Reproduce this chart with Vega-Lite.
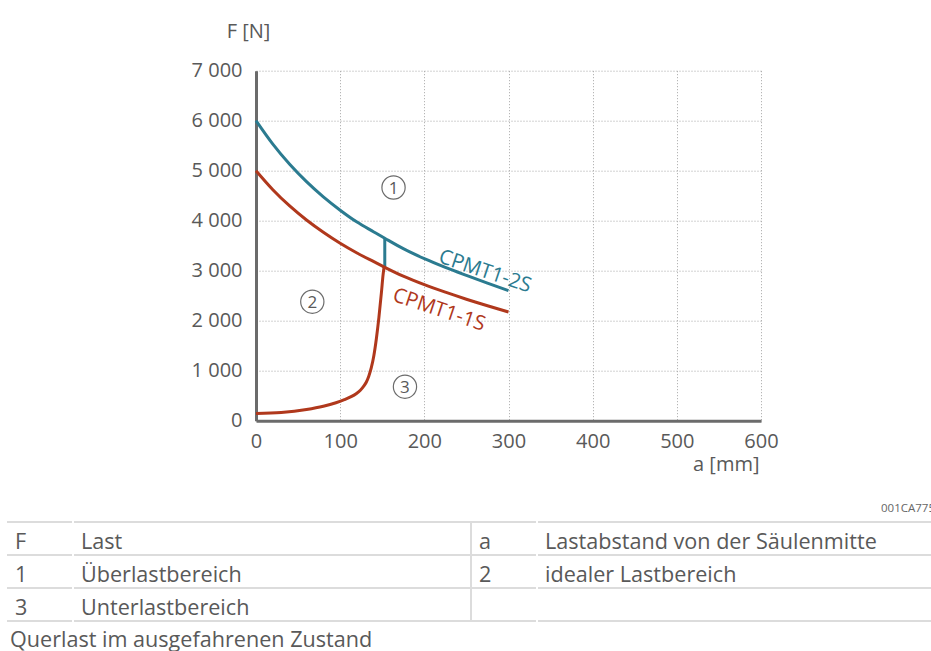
{
  "$schema": "https://vega.github.io/schema/vega-lite/v6.json",
  "width": 505,
  "height": 350,
  "autosize": {"type": "none"},
  "padding": {"left": 256, "top": 70.7, "right": 170, "bottom": 230.3},
  "background": "white",
  "config": {"view": {"stroke": null}, "font": "Open Sans"},
  "datasets": {
    "curves": [
      {"s": "CPMT1-2S", "a": 0, "F": 6000}, {"s": "CPMT1-2S", "a": 20, "F": 5530}, {"s": "CPMT1-2S", "a": 40, "F": 5127},
      {"s": "CPMT1-2S", "a": 60, "F": 4780}, {"s": "CPMT1-2S", "a": 80, "F": 4476}, {"s": "CPMT1-2S", "a": 100, "F": 4210},
      {"s": "CPMT1-2S", "a": 120, "F": 3972}, {"s": "CPMT1-2S", "a": 140, "F": 3775}, {"s": "CPMT1-2S", "a": 153, "F": 3648},
      {"s": "CPMT1-2S", "a": 175, "F": 3440}, {"s": "CPMT1-2S", "a": 200, "F": 3240}, {"s": "CPMT1-2S", "a": 225, "F": 3065},
      {"s": "CPMT1-2S", "a": 250, "F": 2905}, {"s": "CPMT1-2S", "a": 275, "F": 2750}, {"s": "CPMT1-2S", "a": 300, "F": 2600},
      {"s": "CPMT1-1S", "a": 0, "F": 5000}, {"s": "CPMT1-1S", "a": 20, "F": 4620}, {"s": "CPMT1-1S", "a": 40, "F": 4295},
      {"s": "CPMT1-1S", "a": 60, "F": 4015}, {"s": "CPMT1-1S", "a": 80, "F": 3770}, {"s": "CPMT1-1S", "a": 100, "F": 3550},
      {"s": "CPMT1-1S", "a": 120, "F": 3355}, {"s": "CPMT1-1S", "a": 140, "F": 3180}, {"s": "CPMT1-1S", "a": 153, "F": 3068},
      {"s": "CPMT1-1S", "a": 175, "F": 2890}, {"s": "CPMT1-1S", "a": 200, "F": 2720}, {"s": "CPMT1-1S", "a": 225, "F": 2570},
      {"s": "CPMT1-1S", "a": 250, "F": 2430}, {"s": "CPMT1-1S", "a": 275, "F": 2300}, {"s": "CPMT1-1S", "a": 300, "F": 2175},
      {"s": "Grenze", "a": 0, "F": 145}, {"s": "Grenze", "a": 30, "F": 165}, {"s": "Grenze", "a": 60, "F": 225},
      {"s": "Grenze", "a": 80, "F": 290}, {"s": "Grenze", "a": 95, "F": 360}, {"s": "Grenze", "a": 105, "F": 420},
      {"s": "Grenze", "a": 113, "F": 480}, {"s": "Grenze", "a": 119, "F": 540}, {"s": "Grenze", "a": 124, "F": 610},
      {"s": "Grenze", "a": 128, "F": 690}, {"s": "Grenze", "a": 131, "F": 770}, {"s": "Grenze", "a": 134, "F": 890},
      {"s": "Grenze", "a": 137, "F": 1060}, {"s": "Grenze", "a": 140, "F": 1300}, {"s": "Grenze", "a": 143, "F": 1640},
      {"s": "Grenze", "a": 146, "F": 2060}, {"s": "Grenze", "a": 149, "F": 2560}, {"s": "Grenze", "a": 151, "F": 2920},
      {"s": "Grenze", "a": 152.2, "F": 3078}
    ],
    "vertical": [
      {"a": 153, "F": 3068, "a2": 153, "F2": 3648}
    ],
    "zones": [
      {"n": "1", "a": 163.4, "F": 4664},
      {"n": "2", "a": 66.9, "F": 2380},
      {"n": "3", "a": 177, "F": 680}
    ],
    "labels": [
      {"t": "CPMT1-2S", "a": 272, "F": 2980, "k": "CPMT1-2S"},
      {"t": "CPMT1-1S", "a": 217.4, "F": 2214, "k": "CPMT1-1S"}
    ],
    "hlines": [
      {"r": 1, "c": 0, "c2": 4}, {"r": 2, "c": 0, "c2": 4}, {"r": 3, "c": 0, "c2": 4}, {"r": 4, "c": 0, "c2": 4}
    ],
    "gaps": [
      {"c": 1, "r": 1, "r2": 4}, {"c": 3, "r": 1, "r2": 4}
    ],
    "divider": [
      {"c": 2, "r": 1, "r2": 4}
    ],
    "cells": [
      {"r": 1, "c": 0, "t": "F"}, {"r": 1, "c": 1, "t": "Last"}, {"r": 1, "c": 2, "t": "a"}, {"r": 1, "c": 3, "t": "Lastabstand von der Säulenmitte"},
      {"r": 2, "c": 0, "t": "1"}, {"r": 2, "c": 1, "t": "Überlastbereich"}, {"r": 2, "c": 2, "t": "2"}, {"r": 2, "c": 3, "t": "idealer Lastbereich"},
      {"r": 3, "c": 0, "t": "3"}, {"r": 3, "c": 1, "t": "Unterlastbereich"}
    ],
    "caption": [
      {"r": 4, "c": 0, "t": "Querlast im ausgefahrenen Zustand"}
    ],
    "code": [
      {"r": 0, "c": 4, "t": "001CA775"}
    ]
  },
  "layer": [
    {
      "layer": [
        {
          "data": {"name": "vertical"},
          "mark": {"type": "rule", "color": "#2b7b90", "strokeWidth": 3},
          "encoding": {
            "x": {
              "field": "a", "type": "quantitative",
              "scale": {"domain": [0, 600], "nice": false, "zero": false},
              "axis": {
                "values": [0, 100, 200, 300, 400, 500, 600],
                "title": "a [mm]", "titleX": 503, "titleY": 50, "titleAlign": "right", "titleBaseline": "alphabetic",
                "titleFontSize": 20, "titleFontWeight": "normal", "titleColor": "#595959", "titleFont": "Open Sans",
                "labelFontSize": 20, "labelColor": "#595959", "labelFont": "Open Sans", "labelPadding": 11, "labelFlush": false, "labelOverlap": false,
                "ticks": false, "tickSize": 0,
                "domainColor": "#6b6b6b", "domainWidth": 3,
                "grid": true, "gridColor": "#a6a6a6", "gridDash": [1, 2], "gridWidth": 1
              }
            },
            "y": {
              "field": "F", "type": "quantitative",
              "scale": {"domain": [0, 7000], "nice": false, "zero": false},
              "axis": {
                "values": [0, 1000, 2000, 3000, 4000, 5000, 6000, 7000],
                "labelExpr": "replace(format(datum.value, ','), ',', ' ')",
                "title": "F [N]", "titleAngle": 0, "titleX": -8, "titleY": -33.4, "titleAlign": "center", "titleBaseline": "alphabetic",
                "titleFontSize": 20, "titleFontWeight": "normal", "titleColor": "#595959", "titleFont": "Open Sans",
                "labelFontSize": 20, "labelColor": "#595959", "labelFont": "Open Sans", "labelPadding": 14, "labelOverlap": false,
                "ticks": false, "tickSize": 0,
                "domainColor": "#6b6b6b", "domainWidth": 3,
                "grid": true, "gridColor": "#a6a6a6", "gridDash": [1, 2], "gridWidth": 1
              }
            },
            "x2": {"field": "a2"},
            "y2": {"field": "F2"}
          }
        },
        {
          "data": {"name": "curves"},
          "mark": {"type": "line", "strokeWidth": 3, "interpolate": "monotone"},
          "encoding": {
            "x": {"field": "a", "type": "quantitative"},
            "y": {"field": "F", "type": "quantitative"},
            "color": {
              "field": "s", "type": "nominal",
              "scale": {"domain": ["CPMT1-2S", "CPMT1-1S", "Grenze"], "range": ["#2b7b90", "#b0381c", "#b0381c"]},
              "legend": null
            }
          }
        },
        {
          "data": {"name": "zones"},
          "mark": {"type": "point", "shape": "circle", "filled": false, "size": 540, "stroke": "#6b6b6b", "strokeWidth": 1.2, "opacity": 1},
          "encoding": {
            "x": {"field": "a", "type": "quantitative"},
            "y": {"field": "F", "type": "quantitative"}
          }
        },
        {
          "data": {"name": "zones"},
          "mark": {"type": "text", "fontSize": 17, "color": "#595959", "align": "center", "baseline": "middle", "dy": 1},
          "encoding": {
            "x": {"field": "a", "type": "quantitative"},
            "y": {"field": "F", "type": "quantitative"},
            "text": {"field": "n"}
          }
        },
        {
          "data": {"name": "labels"},
          "mark": {"type": "text", "fontSize": 20.5, "align": "center", "baseline": "middle", "angle": 18.5},
          "encoding": {
            "x": {"field": "a", "type": "quantitative"},
            "y": {"field": "F", "type": "quantitative"},
            "text": {"field": "t"},
            "color": {
              "field": "k", "type": "nominal",
              "scale": {"domain": ["CPMT1-2S", "CPMT1-1S"], "range": ["#2b7b90", "#b0381c"]},
              "legend": null
            }
          }
        }
      ]
    },
    {
      "layer": [
        {
          "data": {"name": "hlines"},
          "mark": {"type": "rule", "color": "#dcdcdc", "strokeWidth": 2},
          "encoding": {
            "x": {"field": "c", "type": "quantitative", "scale": {"domain": [0, 1, 2, 3, 4], "range": [-249, -183, 215, 281, 675], "nice": false, "zero": false}, "axis": null},
            "x2": {"field": "c2"},
            "y": {"field": "r", "type": "quantitative", "scale": {"domain": [0, 5], "range": [418.3, 583.3], "nice": false, "zero": false}, "axis": null}
          }
        },
        {
          "data": {"name": "gaps"},
          "mark": {"type": "rule", "color": "white", "strokeWidth": 2, "strokeCap": "square"},
          "encoding": {
            "x": {"field": "c", "type": "quantitative"},
            "y": {"field": "r", "type": "quantitative"},
            "y2": {"field": "r2"}
          }
        },
        {
          "data": {"name": "divider"},
          "mark": {"type": "rule", "color": "#dcdcdc", "strokeWidth": 2},
          "encoding": {
            "x": {"field": "c", "type": "quantitative"},
            "y": {"field": "r", "type": "quantitative"},
            "y2": {"field": "r2"}
          }
        },
        {
          "data": {"name": "cells"},
          "mark": {"type": "text", "fontSize": 21.6, "color": "#595959", "align": "left", "baseline": "alphabetic", "dx": 8, "dy": 26.5},
          "encoding": {
            "x": {"field": "c", "type": "quantitative"},
            "y": {"field": "r", "type": "quantitative"},
            "text": {"field": "t"}
          }
        },
        {
          "data": {"name": "caption"},
          "mark": {"type": "text", "fontSize": 21.6, "color": "#595959", "align": "left", "baseline": "alphabetic", "dx": 3, "dy": 26},
          "encoding": {
            "x": {"field": "c", "type": "quantitative"},
            "y": {"field": "r", "type": "quantitative"},
            "text": {"field": "t"}
          }
        },
        {
          "data": {"name": "code"},
          "mark": {"type": "text", "fontSize": 11.5, "color": "#666666", "align": "left", "baseline": "alphabetic", "dx": -50, "dy": 23},
          "encoding": {
            "x": {"field": "c", "type": "quantitative"},
            "y": {"field": "r", "type": "quantitative"},
            "text": {"field": "t"}
          }
        }
      ]
    }
  ],
  "resolve": {"scale": {"x": "independent", "y": "independent", "color": "independent"}}
}
